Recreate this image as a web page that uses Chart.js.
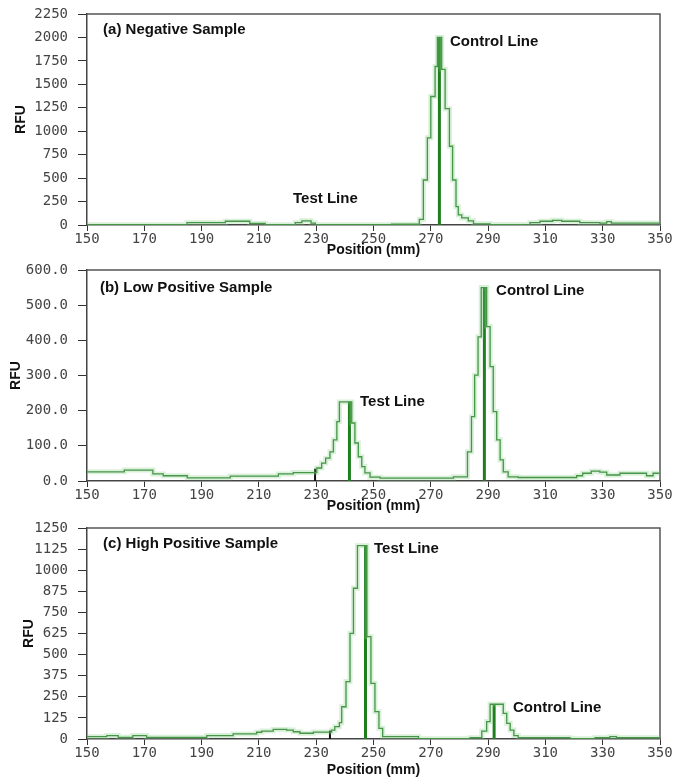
<!DOCTYPE html>
<html>
<head>
<meta charset="utf-8">
<script src="https://cdn.jsdelivr.net/npm/chart.js@4.4.0/dist/chart.umd.min.js"></script>
<style>
  html, body { margin: 0; padding: 0; background: #fff; }
  #wrap { position: relative; width: 675px; height: 781px; }
  .panel { position: absolute; left: 0; width: 675px; }
</style>
</head>
<body>
<div id="wrap">
  <div class="panel" style="top:0"><canvas id="chartA" width="675" height="261"></canvas></div>
  <div class="panel" style="top:261px"><canvas id="chartB" width="675" height="256"></canvas></div>
  <div class="panel" style="top:517px"><canvas id="chartC" width="675" height="264"></canvas></div>
</div>
<script>
// (a) negative sample - step start positions (mm) and RFU
const posA = [150, 184.9, 198.3, 206.8, 212.2, 222.7, 225.0, 228.2, 229.7, 256.3, 266.0, 267.4, 268.8, 270.0, 271.5, 272.3, 273.8, 275.0, 276.5, 277.6, 278.8, 279.6, 280.8, 283.1, 284.9, 290.7, 302.3, 304.6, 308.1, 312.5, 315.7, 322.0, 329.0, 331.4, 333.0, 350];
const rfuA = [3, 25, 40, 18, 3, 25, 45, 20, 3, 8, 60, 480, 930, 1370, 1690, 2000, 1660, 1240, 840, 480, 195, 107, 75, 45, 12, 5, 2, 25, 40, 50, 40, 25, 20, 35, 20, 20];
const peakPosA = [273.0];
const peakValA = [2000];

// (b) low positive sample
const posB = [150, 163, 173, 176.6, 185, 200, 216.8, 222, 230.2, 231.9, 233.3, 234.8, 236.0, 237.2, 238.1, 242.4, 243.5, 244.7, 245.9, 247.0, 248.8, 252.3, 277.9, 282.8, 284.2, 285.3, 286.5, 287.6, 289.5, 290.7, 291.8, 293.0, 294.2, 295.3, 297.0, 300.5, 320.9, 323.0, 326.0, 329.0, 331.4, 336.0, 345.3, 347.6, 350];
const rfuB = [26, 31, 20, 15, 9, 14, 20, 24, 37, 51, 65, 83, 117, 169, 225, 165, 108, 69, 41, 23, 11, 8, 12, 83, 183, 301, 410, 550, 439, 325, 197, 117, 60, 26, 12, 10, 15, 22, 28, 25, 17, 22, 15, 22, 22];
const peakPosB = [241.6, 288.7];
const peakValB = [225, 550];
const edgePosB = [229.6];
const edgeValB = [35];

// (c) high positive sample
const posC = [150, 156.9, 160.9, 166, 170.8, 191.8, 201, 209.2, 211, 215, 219.7, 222, 224.3, 229, 235.4, 236.5, 238.1, 238.9, 240.4, 241.8, 243.0, 244.4, 247.7, 249.1, 250.5, 251.9, 253.2, 265.7, 283.7, 287.8, 289.5, 290.7, 295.3, 296.5, 297.7, 299.0, 300.5, 318.6, 327.3, 332.5, 334.8, 350];
const rfuC = [14, 20, 10, 20, 10, 20, 30, 40, 47, 57, 53, 43, 34, 41, 53, 73, 97, 191, 340, 626, 893, 1145, 606, 330, 162, 63, 14, 2, 8, 47, 103, 206, 152, 93, 53, 20, 8, 2, 8, 14, 8, 8];
const peakPosC = [247.2, 292.1];
const peakValC = [1145, 206];
const edgePosC = [234.8];
const edgeValC = [50];

const tickFont = { family: '"DejaVu Sans Mono", monospace', size: 14 };
const titleFont = { family: '"Liberation Sans", Arial, sans-serif', size: 14, weight: 'bold' };

// frame on top and right side of plot
const boxPlugin = {
    id: 'plotBox',
    beforeDatasetsDraw(chart) {
        const { ctx, chartArea: a } = chart;
        ctx.save();
        ctx.strokeStyle = '#555';
        ctx.lineWidth = 1.5;
        ctx.beginPath();
        ctx.moveTo(a.left, a.top);
        ctx.lineTo(a.right, a.top);
        ctx.lineTo(a.right, a.bottom);
        ctx.stroke();
        ctx.restore();
    }
};

// text labels placed in data coordinates
const notesPlugin = {
    id: 'notes',
    afterDatasetsDraw(chart, args, opts) {
        const ctx = chart.ctx;
        const xs = chart.scales.x, ys = chart.scales.y;
        ctx.save();
        ctx.font = 'bold 15px "Liberation Sans", Arial, sans-serif';
        ctx.fillStyle = '#111';
        ctx.textBaseline = 'middle';
        (opts.items || []).forEach(n => {
            ctx.fillText(n.text, xs.getPixelForValue(n.x), ys.getPixelForValue(n.y));
        });
        ctx.restore();
    }
};

function makeChart(id, p) {
    // each value holds from its position until the next one
    const pts = p.pos.map((x, i) => ({ x: x, y: p.rfu[i] }));
    const datasets = [
        { data: pts, stepped: 'before', borderColor: 'rgba(130,205,130,0.3)', borderWidth: 5, pointRadius: 0 },
        { data: pts, stepped: 'before', borderColor: '#2e7d32', borderWidth: 1.3, pointRadius: 0 }
    ];
    p.peakPos.forEach((x, i) => {
        datasets.push({
            data: [{ x: x, y: 0 }, { x: x, y: p.peakVal[i] }],
            borderColor: '#1f7f1f', borderWidth: 3, pointRadius: 0
        });
    });
    (p.edgePos || []).forEach((x, i) => {
        datasets.push({
            data: [{ x: x, y: 0 }, { x: x, y: p.edgeVal[i] }],
            borderColor: '#111', borderWidth: 2, pointRadius: 0
        });
    });

    new Chart(document.getElementById(id).getContext('2d'), {
        type: 'line',
        data: { datasets: datasets },
        options: {
            responsive: false,
            animation: false,
            layout: { padding: { top: p.padTop, right: 15, left: 0, bottom: 0 } },
            plugins: {
                legend: { display: false },
                tooltip: { enabled: false },
                notes: { items: p.notes }
            },
            scales: {
                x: {
                    type: 'linear',
                    min: 150,
                    max: 350,
                    ticks: { stepSize: 20, font: tickFont, color: '#444', padding: 0, maxRotation: 0 },
                    grid: { drawOnChartArea: false, drawTicks: true, tickLength: 6, color: '#333' },
                    border: { color: '#444', width: 1.5 },
                    title: { display: true, text: 'Position (mm)', font: titleFont, color: '#111', padding: { top: 0, bottom: p.xTitlePad } },
                    afterFit: s => { s.height = p.xAxisH; }
                },
                y: {
                    min: 0,
                    max: p.yMax,
                    ticks: {
                        stepSize: p.yStep, font: tickFont, color: '#444', padding: 10,
                        callback: v => v.toFixed(p.dec)
                    },
                    grid: { drawOnChartArea: false, drawTicks: true, tickLength: 9, color: '#333' },
                    border: { color: '#444', width: 1.5 },
                    title: { display: true, text: 'RFU', font: titleFont, color: '#111', padding: { top: p.yTitlePad, bottom: 0 } },
                    afterFit: s => { s.width = 87; s.paddingTop = 0; s.paddingBottom = 0; }
                }
            }
        },
        plugins: [boxPlugin, notesPlugin]
    });
}

makeChart('chartA', {
    pos: posA, rfu: rfuA, peakPos: peakPosA, peakVal: peakValA,
    yMax: 2250, yStep: 250, dec: 0,
    padTop: 14, xAxisH: 36, xTitlePad: 2, yTitlePad: 13,
    notes: [
        { text: '(a) Negative Sample', x: 155.6, y: 2079 },
        { text: 'Control Line', x: 276.7, y: 1951 },
        { text: 'Test Line', x: 221.9, y: 277 }
    ]
});

makeChart('chartB', {
    pos: posB, rfu: rfuB, peakPos: peakPosB, peakVal: peakValB, edgePos: edgePosB, edgeVal: edgeValB,
    yMax: 600, yStep: 100, dec: 1,
    padTop: 9, xAxisH: 36, xTitlePad: 2, yTitlePad: 8,
    notes: [
        { text: '(b) Low Positive Sample', x: 154.5, y: 549 },
        { text: 'Test Line', x: 245.3, y: 225 },
        { text: 'Control Line', x: 292.8, y: 540 }
    ]
});

makeChart('chartC', {
    pos: posC, rfu: rfuC, peakPos: peakPosC, peakVal: peakValC, edgePos: edgePosC, edgeVal: edgeValC,
    yMax: 1250, yStep: 125, dec: 0,
    padTop: 11, xAxisH: 42, xTitlePad: 2, yTitlePad: 21,
    notes: [
        { text: '(c) High Positive Sample', x: 155.6, y: 1155 },
        { text: 'Test Line', x: 250.2, y: 1126 },
        { text: 'Control Line', x: 298.7, y: 184 }
    ]
});
</script>
</body>
</html>
